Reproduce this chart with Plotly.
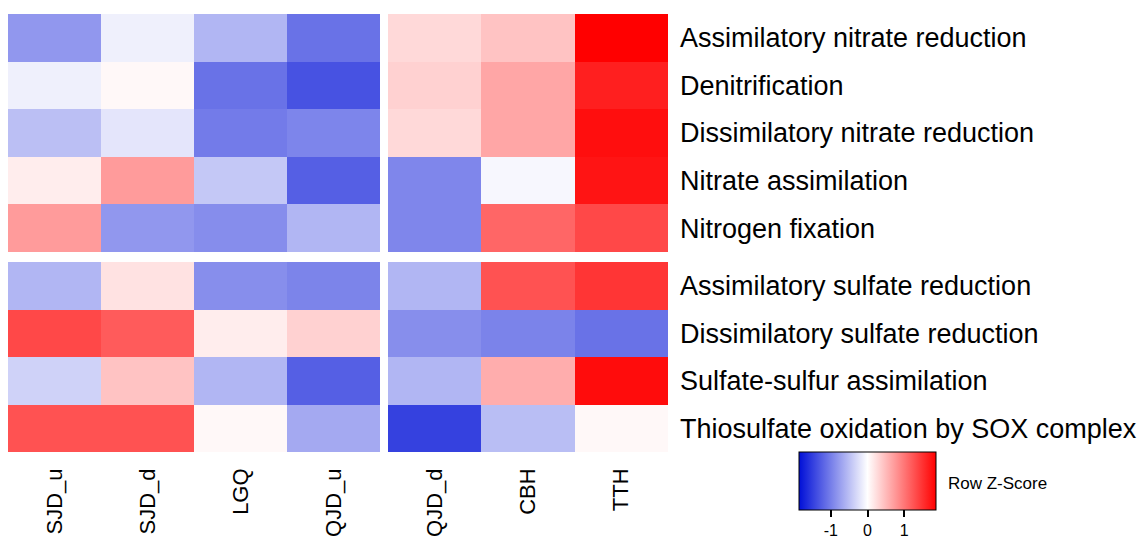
import plotly.graph_objects as go

rows_n = ["Assimilatory nitrate reduction", "Denitrification", "Dissimilatory nitrate reduction",
          "Nitrate assimilation", "Nitrogen fixation"]
rows_s = ["Assimilatory sulfate reduction", "Dissimilatory sulfate reduction",
          "Sulfate-sulfur assimilation", "Thiosulfate oxidation by SOX complex"]
cols_l = ["SJD_u", "SJD_d", "LGQ", "QJD_u"]
cols_r = ["QJD_d", "CBH", "TTH"]

# Row Z-scores, columns: SJD_u, SJD_d, LGQ, QJD_u, QJD_d, CBH, TTH
z_nitrogen = [
    [-0.81, -0.12, -0.57, -1.10, 0.28, 0.44, 1.87],
    [-0.12, 0.05, -1.10, -1.35, 0.34, 0.65, 1.64],
    [-0.50, -0.20, -1.03, -0.95, 0.28, 0.65, 1.77],
    [0.13, 0.73, -0.43, -1.25, -0.94, -0.06, 1.72],
    [0.73, -0.81, -0.89, -0.57, -0.94, 1.12, 1.34],
]
z_sulfur = [
    [-0.57, 0.21, -0.88, -0.96, -0.57, 1.27, 1.48],
    [1.34, 1.20, 0.13, 0.34, -0.88, -0.97, -1.10],
    [-0.35, 0.44, -0.57, -1.25, -0.57, 0.60, 1.78],
    [1.27, 1.27, 0.05, -0.67, -1.48, -0.51, 0.05],
]

# page body has an 8px margin, so the figure is drawn 8px in from the corner
OFF = 8
W, H = 1146 - OFF, 540 - OFF
FONT = "Liberation Sans, Arial, sans-serif"
ZMAX = 1.87

def px_x(a, b):
    return [(a - OFF) / W, (b - OFF) / W]

def px_y(top, bottom):
    return [1 - (bottom - OFF) / H, 1 - (top - OFF) / H]

fig = go.Figure()

blocks = [
    (z_nitrogen, rows_n, slice(0, 4), cols_l, "x", "y"),
    (z_nitrogen, rows_n, slice(4, 7), cols_r, "x2", "y2"),
    (z_sulfur, rows_s, slice(0, 4), cols_l, "x3", "y3"),
    (z_sulfur, rows_s, slice(4, 7), cols_r, "x4", "y4"),
]
for zz, rr, sl, cc, xa, ya in blocks:
    fig.add_trace(go.Heatmap(
        z=[r[sl] for r in zz], x=cc, y=rr, coloraxis="coloraxis",
        xaxis=xa, yaxis=ya, hoverongaps=False,
    ))

axis_common = dict(showgrid=False, zeroline=False, showline=False, ticks="", automargin=False,
                   tickfont=dict(family=FONT, size=22, color="black"))
row_font = dict(family=FONT, size=27, color="black")

fig.update_layout(
    width=W, height=H,
    margin=dict(l=0, r=0, t=0, b=0, autoexpand=False),
    paper_bgcolor="white", plot_bgcolor="white",
    font=dict(family=FONT, color="black"),
    coloraxis=dict(
        cmin=-ZMAX, cmax=ZMAX,
        colorscale=[[0, "rgb(0,15,215)"], [0.5, "rgb(255,255,255)"], [1, "rgb(255,0,0)"]],
        colorbar=dict(
            orientation="h", x=(799 - OFF) / W, xanchor="left",
            y=1 - (452 - OFF) / H, yanchor="top",
            len=137, lenmode="pixels", thickness=58, thicknessmode="pixels",
            xpad=0, ypad=0, outlinewidth=1, outlinecolor="black",
            ticks="outside", ticklen=7, tickcolor="black", tickwidth=2,
            tickvals=[-1, 0, 1], ticktext=["-1", "0", "1"],
            tickfont=dict(family=FONT, size=16, color="black"),
        ),
    ),
    annotations=[dict(
        text="Row Z-Score", xref="paper", yref="paper",
        x=(946 - OFF) / W, y=1 - (483 - OFF) / H, xanchor="left", yanchor="middle",
        showarrow=False, font=dict(family=FONT, size=17, color="black"),
    )],
    xaxis=dict(domain=px_x(8, 380), anchor="y", showticklabels=False, **axis_common),
    yaxis=dict(domain=px_y(14, 252), anchor="x", showticklabels=False,
               autorange="reversed", **axis_common),
    xaxis2=dict(domain=px_x(388, 668), anchor="y2", showticklabels=False, **axis_common),
    yaxis2=dict(domain=px_y(14, 252), anchor="x2", side="right", autorange="reversed",
                ticklabelstandoff=11, **{**axis_common, "tickfont": row_font}),
    xaxis3=dict(domain=px_x(8, 380), anchor="y3", tickangle=-90, ticklabelstandoff=11, **axis_common),
    yaxis3=dict(domain=px_y(262, 452), anchor="x3", showticklabels=False,
                autorange="reversed", **axis_common),
    xaxis4=dict(domain=px_x(388, 668), anchor="y4", tickangle=-90, ticklabelstandoff=11, **axis_common),
    yaxis4=dict(domain=px_y(262, 452), anchor="x4", side="right", autorange="reversed",
                ticklabelstandoff=11, **{**axis_common, "tickfont": row_font}),
)

fig.write_html("out.html")
